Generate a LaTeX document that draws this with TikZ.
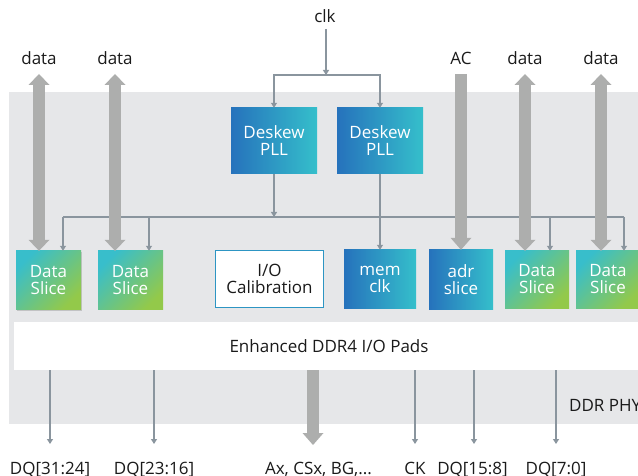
\documentclass[tikz,border=0pt]{standalone}
\usepackage{fontspec}
\setmainfont{Open Sans}
\usetikzlibrary{arrows.meta,shadows}
\definecolor{bgc}{HTML}{E6E7E9}
\definecolor{thickc}{HTML}{ADAEAD}
\definecolor{wirec}{HTML}{8A959E}
\definecolor{blueA}{HTML}{2672BC}
\definecolor{blueB}{HTML}{35BFCB}
\definecolor{tealA}{HTML}{38BECB}
\definecolor{greenB}{HTML}{93C94A}
\definecolor{txtc}{HTML}{1A1A1A}
\begin{document}
\begin{tikzpicture}[x=1pt,y=-1pt,
  every node/.style={font=\fontsize{17}{17}\selectfont, text=txtc, inner sep=0pt, align=center},
  bluebox/.style={left color=blueA, right color=blueB, text=white},
  dsbox/.style={top color=tealA, bottom color=greenB, shading angle=45, text=white, minimum width=65pt, minimum height=58pt},
  calbox/.style={fill=white, draw=blueA!55!blueB, line width=1pt, minimum width=108pt, minimum height=57pt},
  padband/.style={fill=white, minimum width=630pt, minimum height=48pt},
  wire/.style={draw=wirec, line width=1.2pt},
  wirearr/.style={wire, -{Triangle[width=6pt,length=5pt]}},
  thickdbl/.style={draw=thickc, line width=12pt, {Triangle[width=21pt,length=11pt,line width=0pt]}-{Triangle[width=21pt,length=11pt,line width=0pt]}},
  thicksgl/.style={draw=thickc, line width=12pt, -{Triangle[width=21pt,length=12pt,line width=0pt]}}
]
\clip (0,0) rectangle (638,476);
\fill[bgc] (9,92) rectangle (640,424);

% pads band
\node[padband] (pads) at (329,346) {Enhanced DDR4 I/O Pads};
\node[anchor=base west] (phy) at (569,411) {DDR PHY};

% top labels
\node[anchor=base] (clk) at (325,23) {clk};
\node[anchor=base] (d1) at (39,65) {data};
\node[anchor=base] (d2) at (115,65) {data};
\node[anchor=base] (ac) at (461,65) {AC};
\node[anchor=base] (d3) at (525,65) {data};
\node[anchor=base] (d4) at (601,65) {data};

% boxes
\node[bluebox, minimum width=86pt, minimum height=66pt] (pll1) at (274,141) {Deskew\\PLL};
\node[bluebox, minimum width=86pt, minimum height=66pt] (pll2) at (380,141) {Deskew\\PLL};
\node[dsbox, drop shadow={shadow xshift=1.2pt, shadow yshift=-1.5pt, opacity=0.35}] (ds1) at (48.5,280) {Data\\Slice};
\node[dsbox] (ds2) at (130.5,280) {Data\\Slice};
\node[calbox] (cal) at (269.5,279) {I/O\\Calibration};
\node[bluebox, minimum width=72pt, minimum height=58pt] (mem) at (380,279) {mem\\clk};
\node[bluebox, minimum width=64pt, minimum height=59pt] (adr) at (461,279.5) {adr\\slice};
\node[dsbox, minimum width=64pt, minimum height=57pt] (ds3) at (537,279.5) {Data\\Slice};
\node[dsbox, minimum width=64pt, minimum height=57pt] (ds4) at (608,279.5) {Data\\Slice};

% bottom labels
\node[anchor=base] (q1) at (50,474) {DQ[31:24]};
\node[anchor=base] (q2) at (154,474) {DQ[23:16]};
\node[anchor=base] (qa) at (318.5,474) {Ax, CSx, BG,...};
\node[anchor=base] (qc) at (415,474) {CK};
\node[anchor=base] (q3) at (472.5,474) {DQ[15:8]};
\node[anchor=base] (q4) at (556,474) {DQ[7:0]};

% clock tree
\coordinate (cs) at (326,29);
\coordinate (cj) at (326,75);
\draw[wirearr] (cs) -- (cj);
\draw[wirearr] (cj) -| (pll1.north);
\draw[wirearr] (cj) -| (pll2.north);
\coordinate (busL) at (63,217);
\coordinate (b2) at (149,217);
\coordinate (b3) at (550,217);
\coordinate (busR) at (624,217);
\draw[wire] (busL) -- (busR);
\draw[wirearr] (pll1.south) -- (pll1.south |- busL);
\draw[wirearr] (busL) -- (ds1.north -| busL);
\draw[wirearr] (b2) -- (ds2.north -| b2);
\draw[wirearr] (b3) -- (ds3.north -| b3);
\draw[wirearr] (busR) -- (ds4.north -| busR);
\draw[wirearr] (pll2.south) -- (mem.north);

% bottom thin arrows
\coordinate (e1) at (50,444);
\coordinate (e2) at (154,444);
\coordinate (ec) at (415,444);
\coordinate (e3) at (474,444);
\coordinate (e4) at (556,444);
\foreach \e in {e1,e2,ec,e3,e4} \draw[wirearr] (pads.south -| \e) -- (\e);

% thick arrows
\coordinate (t1) at (39,74);
\coordinate (t2) at (115,74);
\coordinate (t3) at (525,74);
\coordinate (t4) at (601,74);
\coordinate (ta) at (461,74);
\draw[thickdbl] (t1) -- (ds1.north -| t1);
\draw[thickdbl] (t2) -- (ds2.north -| t2);
\draw[thickdbl] (t3) -- (ds3.north -| t3);
\draw[thickdbl] (t4) -- (ds4.north -| t4);
\draw[thicksgl] (ta) -- (adr.north);
\coordinate (ax) at (313,445);
\draw[thicksgl] (pads.south -| ax) -- (ax);
\end{tikzpicture}
\end{document}
